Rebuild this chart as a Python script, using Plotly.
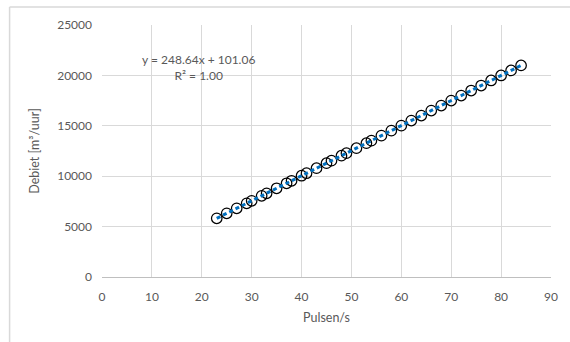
import plotly.graph_objects as go

# Measured pulse rate vs. flow
pulses = [23, 25, 27, 29, 30, 32, 33, 35, 37, 38, 40, 41, 43, 45, 46, 48, 49, 51,
          53, 54, 56, 58, 60, 62, 64, 66, 68, 70, 72, 74, 76, 78, 80, 82, 84]
flow = [5820, 6317, 6814, 7312, 7560, 8057, 8306, 8803, 9300, 9549, 10047, 10295,
        10793, 11290, 11538, 12036, 12284, 12782, 13279, 13528, 14025, 14522, 15019,
        15517, 16014, 16511, 17009, 17506, 18003, 18500, 18998, 19495, 19992, 20490,
        20987]

# Linear trendline coefficients
slope = 248.64
intercept = 101.06
r_squared = 1.00

x_ticks = [0, 10, 20, 30, 40, 50, 60, 70, 80, 90]
y_ticks = [0, 5000, 10000, 15000, 20000, 25000]

FONT = "Lato"
GREY_TXT = "#595959"
GRID = "#D9D9D9"

x_fit = [min(pulses), max(pulses)]
y_fit = [slope * v + intercept for v in x_fit]

fig = go.Figure()
fig.add_trace(go.Scatter(
    x=pulses, y=flow, mode="markers",
    marker=dict(symbol="circle", size=10.5, color="rgba(255,255,255,0)",
                line=dict(color="black", width=1.25)),
    showlegend=False, hoverinfo="x+y",
))
fig.add_trace(go.Scatter(
    x=x_fit, y=y_fit, mode="lines",
    line=dict(color="#0070C0", width=3, dash="4px,3px"),
    showlegend=False, hoverinfo="skip",
))

fig.add_annotation(
    x=0.215, y=0.83, xref="paper", yref="paper", xanchor="center", yanchor="middle",
    text=f"y = {slope:.2f}x + {intercept:.2f}<br>R² = {r_squared:.2f}",
    showarrow=False, align="center",
    font=dict(family=FONT, size=12, color=GREY_TXT),
)

# outer chart frame
L, T = -0.2058, 1.0714
fig.add_shape(type="line", xref="paper", yref="paper", x0=L, x1=L, y0=-0.5, y1=T,
              line=dict(color=GRID, width=1.5))
fig.add_shape(type="line", xref="paper", yref="paper", x0=L, x1=1.2, y0=T, y1=T,
              line=dict(color=GRID, width=1.5))

fig.update_layout(
    width=570, height=342,
    margin=dict(l=101.5, r=19, t=25, b=65),
    paper_bgcolor="white", plot_bgcolor="white",
    font=dict(family=FONT, size=12, color=GREY_TXT),
    xaxis=dict(
        range=[0, 90], tickvals=x_ticks, ticktext=[str(v) for v in x_ticks],
        showgrid=True, gridcolor=GRID, gridwidth=1,
        showline=True, linecolor="#BFBFBF", linewidth=1,
        zeroline=False, ticks="", ticklabelstandoff=9,
        title=dict(text="Pulsen/s", font=dict(size=12.5, color=GREY_TXT), standoff=9),
        tickfont=dict(size=12, color=GREY_TXT),
    ),
    yaxis=dict(
        range=[0, 25000], tickvals=y_ticks, ticktext=[str(v) for v in y_ticks],
        showgrid=True, gridcolor=GRID, gridwidth=1,
        zeroline=False, showline=False, ticks="", ticklabelstandoff=9,
        title=dict(text="Debiet [m³/uur]", font=dict(size=12.5, color=GREY_TXT), standoff=14),
        tickfont=dict(size=12, color=GREY_TXT),
    ),
)

fig.write_html("out.html")
